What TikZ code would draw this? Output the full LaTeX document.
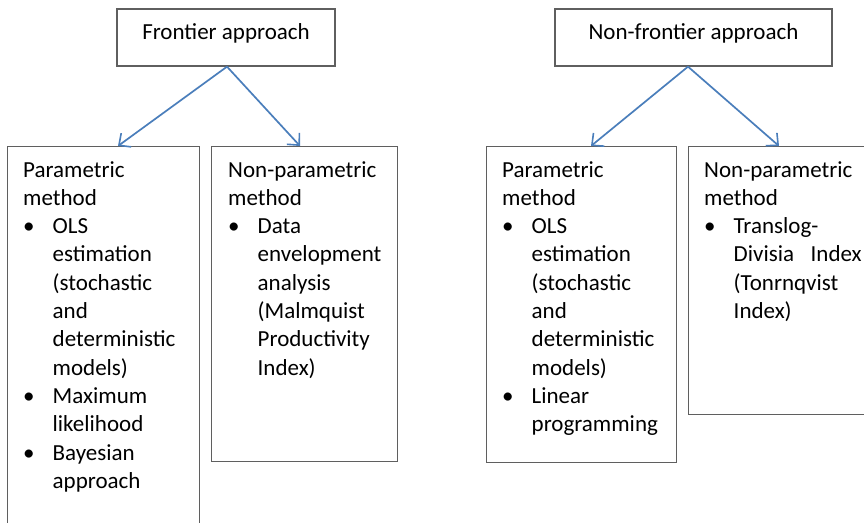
\documentclass[tikz,border=0pt]{standalone}
\usepackage{fontspec}
\setmainfont{Carlito}
\usetikzlibrary{arrows.meta}
\definecolor{arrowblue}{HTML}{4A7EBB}
\definecolor{boxgray}{HTML}{5F5F5F}
\tikzset{
  boxline/.style={draw=boxgray, line width=1.3pt},
  topbox/.style={boxline, rectangle, inner sep=0pt, minimum width=218pt, minimum height=57pt, text height=10pt, text depth=7pt},
  lowbox/.style={boxline, rectangle, inner sep=0pt, anchor=north west},
  txt/.style={anchor=base west, inner sep=0pt},
  conn/.style={draw=arrowblue, line width=1.7pt, -{Straight Barb[length=9pt,width=17pt,line width=1.6pt]}}
}
\newcommand{\bx}{\makebox[29.5pt][l]{\textbullet}}
\begin{document}
\begin{tikzpicture}[x=1pt,y=-1pt,font=\fontsize{23}{28.3}\selectfont]
\useasboundingbox (0,0) rectangle (864,522);
\clip (0,0) rectangle (864,522);
\fill[white] (0,0) rectangle (864,522);
% top boxes
\node[topbox] (fa) at (226,37.5) {Frontier approach};
\node[topbox, minimum width=277pt] (nfa) at (693.5,37.5) {Non-frontier approach};
% lower boxes
\node[lowbox, minimum width=192pt, minimum height=400pt] (p1) at (7,146) {};
\node[lowbox, minimum width=186pt, minimum height=315pt] (n1) at (211,146) {};
\node[lowbox, minimum width=190pt, minimum height=316pt] (p2) at (486,146) {};
\node[lowbox, minimum width=192pt, minimum height=268pt] (n2) at (688,146) {};
% arrows
\coordinate (fa0) at ([xshift=1pt]fa.south);
\coordinate (nfa0) at ([xshift=-5.5pt]nfa.south);
\draw[conn] (fa0) -- ([xshift=111pt]p1.north west);
\draw[conn] (fa0) -- ([xshift=89pt]n1.north west);
\draw[conn] (nfa0) -- ([xshift=105pt]p2.north west);
\draw[conn] (nfa0) -- ([xshift=91pt]n2.north west);
% texts
\node[txt] (t1) at ([shift={(16,31)}]p1.north west) {\begin{tabular}[t]{@{}l@{}}
Parametric\\
method\\
\bx OLS\\
\hspace*{29.5pt}estimation\\
\hspace*{29.5pt}(stochastic\\
\hspace*{29.5pt}and\\
\hspace*{29.5pt}deterministic\\
\hspace*{29.5pt}models)\\
\bx Maximum\\
\hspace*{29.5pt}likelihood\\
\bx Bayesian\\
\hspace*{29.5pt}approach
\end{tabular}};
\node[txt] (t2) at ([shift={(17,31)}]n1.north west) {\begin{tabular}[t]{@{}l@{}}
Non-parametric\\
method\\
\bx Data\\
\hspace*{29.5pt}envelopment\\
\hspace*{29.5pt}analysis\\
\hspace*{29.5pt}(Malmquist\\
\hspace*{29.5pt}Productivity\\
\hspace*{29.5pt}Index)
\end{tabular}};
\node[txt] (t3) at ([shift={(16,31)}]p2.north west) {\begin{tabular}[t]{@{}l@{}}
Parametric\\
method\\
\bx OLS\\
\hspace*{29.5pt}estimation\\
\hspace*{29.5pt}(stochastic\\
\hspace*{29.5pt}and\\
\hspace*{29.5pt}deterministic\\
\hspace*{29.5pt}models)\\
\bx Linear\\
\hspace*{29.5pt}programming
\end{tabular}};
\node[txt] (t4) at ([shift={(16,31)}]n2.north west) {\begin{tabular}[t]{@{}l@{}}
Non-parametric\\
method\\
\bx Translog-\\
\hspace*{29.5pt}\makebox[128pt][s]{Divisia\hfill Index}\\
\hspace*{29.5pt}(Tonrnqvist\\
\hspace*{29.5pt}Index)
\end{tabular}};
\end{tikzpicture}
\end{document}
